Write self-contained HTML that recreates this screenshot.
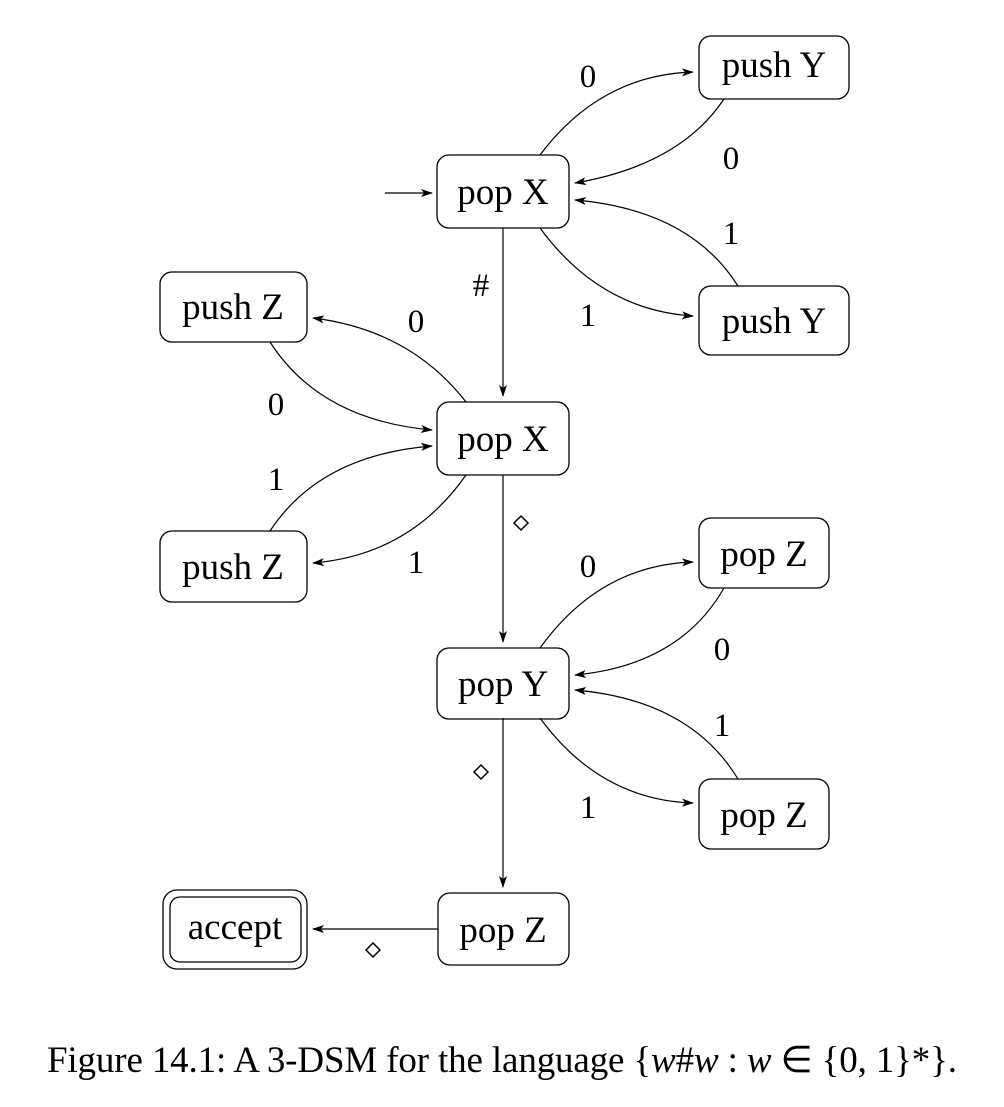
<!DOCTYPE html>
<html><head><meta charset="utf-8"><style>
body{margin:0;background:#fff;}
svg text{font-family:"Liberation Serif",serif;fill:#000;}
</style></head><body>
<svg width="1004" height="1102" viewBox="0 0 1004 1102" xmlns="http://www.w3.org/2000/svg">
<defs><marker id="a" markerWidth="12" markerHeight="8" refX="11" refY="4" orient="auto" markerUnits="userSpaceOnUse"><path d="M0,0 L12,4 L0,8 L3,4 Z" fill="#000"/></marker></defs>
<g fill="none" stroke="#000" stroke-width="1.3">
<rect x="437" y="155" width="132" height="73" rx="12"/>
<rect x="437" y="402" width="132" height="73" rx="12"/>
<rect x="437" y="648" width="132" height="71" rx="12"/>
<rect x="438" y="893" width="131" height="72" rx="12"/>
<rect x="699" y="36" width="150" height="63" rx="12"/>
<rect x="699" y="286" width="150" height="69" rx="12"/>
<rect x="160" y="272" width="147" height="70" rx="12"/>
<rect x="160" y="531" width="147" height="71" rx="12"/>
<rect x="699" y="518" width="130" height="70" rx="12"/>
<rect x="699" y="779" width="130" height="70" rx="12"/>
<rect x="163" y="890" width="144" height="79" rx="14"/>
<rect x="170" y="897" width="131" height="65" rx="10"/>
</g>
<g fill="none" stroke="#000" stroke-width="1.2" marker-end="url(#a)">
<path d="M385,193 L432,193"/>
<path d="M540,155 Q600,75 693,72"/>
<path d="M724,99 Q680,165 575,183"/>
<path d="M738,286 Q690,210 575,200"/>
<path d="M540,228 Q600,310 693,316"/>
<path d="M503,228 L503,396"/>
<path d="M466,402 Q410,330 313,318"/>
<path d="M270,342 Q320,420 432,430"/>
<path d="M270,531 Q320,455 432,446"/>
<path d="M466,475 Q410,555 313,563"/>
<path d="M503,475 L503,642"/>
<path d="M540,648 Q600,565 693,562"/>
<path d="M724,588 Q680,665 575,675"/>
<path d="M738,779 Q690,700 575,690"/>
<path d="M540,718 Q600,800 693,803"/>
<path d="M503,718 L503,887"/>
<path d="M438,929 L313,929"/>
</g>
<g font-size="37" text-anchor="middle">
<text x="503" y="204">pop X</text>
<text x="503" y="451">pop X</text>
<text x="503" y="696">pop Y</text>
<text x="503" y="942">pop Z</text>
<text x="774" y="77">push Y</text>
<text x="774" y="333">push Y</text>
<text x="233" y="319">push Z</text>
<text x="233" y="579">push Z</text>
<text x="764" y="566">pop Z</text>
<text x="764" y="827">pop Z</text>
<text x="235" y="939">accept</text>
</g>
<g font-size="33" text-anchor="middle">
<text x="588" y="87">0</text>
<text x="731" y="169">0</text>
<text x="731" y="244">1</text>
<text x="588" y="326">1</text>
<text x="481" y="296">#</text>
<text x="416" y="332">0</text>
<text x="276" y="415">0</text>
<text x="276" y="490">1</text>
<text x="416" y="573">1</text>
<text x="588" y="577">0</text>
<text x="722" y="660">0</text>
<text x="722" y="736">1</text>
<text x="588" y="818">1</text>
</g>
<g fill="none" stroke="#000" stroke-width="1.5">
<path d="M521,516 L528,523 L521,530 L514,523 Z"/>
<path d="M481,765 L488,772 L481,779 L474,772 Z"/>
<path d="M373,943 L380,950 L373,957 L366,950 Z"/>
</g>
<text x="502" y="1072" font-size="37" text-anchor="middle" textLength="910" lengthAdjust="spacing">Figure 14.1: A 3-DSM for the language {<tspan font-style="italic">w</tspan>#<tspan font-style="italic">w</tspan> : <tspan font-style="italic">w</tspan> ∈ {0, 1}*}.</text>
</svg>
</body></html>
